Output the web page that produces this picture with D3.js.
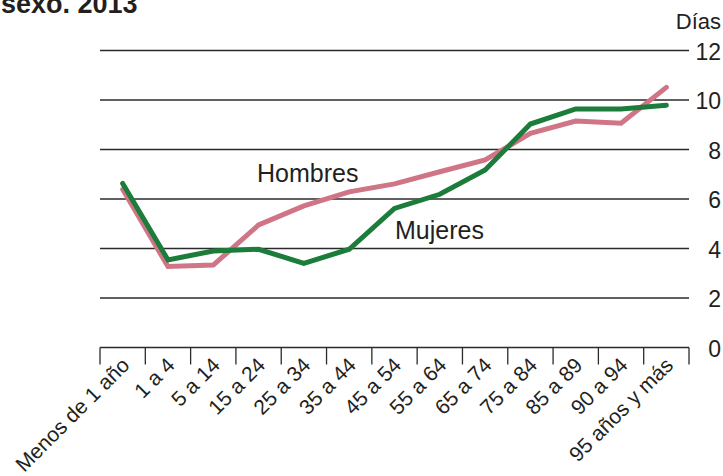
<!DOCTYPE html>
<html>
<head>
<meta charset="utf-8">
<script src="https://cdn.jsdelivr.net/npm/d3@7"></script>
<style>
  html, body { margin: 0; padding: 0; background: #fff; }
  svg { display: block; font-family: "Liberation Sans", Arial, sans-serif; }
</style>
</head>
<body>
<svg id="chart" width="723" height="476"></svg>
<script>
// Age groups along the horizontal axis
const categories = [
  "Menos de 1 año", "1 a 4", "5 a 14", "15 a 24", "25 a 34", "35 a 44",
  "45 a 54", "55 a 64", "65 a 74", "75 a 84", "85 a 89", "90 a 94", "95 años y más"
];

// Average length of stay, in days
const hombres = [6.39, 3.27, 3.33, 4.95, 5.72, 6.29, 6.61, 7.10, 7.58, 8.65, 9.15, 9.06, 10.51];
const mujeres = [6.63, 3.54, 3.90, 3.97, 3.40, 3.97, 5.62, 6.19, 7.17, 9.03, 9.64, 9.64, 9.79];

const yTicks = [0, 2, 4, 6, 8, 10, 12];

(function draw() {
  const svg = d3.select("#chart");
  const plotLeft = 100, plotRight = 689, plotTop = 50.5, plotBottom = 347.5;

  const x = d3.scaleBand().domain(categories).range([plotLeft, plotRight]).padding(0);
  const y = d3.scaleLinear().domain([0, 12]).range([plotBottom, plotTop]);
  const cx = d => x(d) + x.bandwidth() / 2;

  // Title (continuation line)
  svg.append("text")
    .attr("x", 1).attr("y", 13)
    .attr("font-size", 27).attr("font-weight", "bold").attr("fill", "#231f20")
    .text("sexo. 2013");

  // Horizontal gridlines
  svg.append("g")
    .selectAll("line")
    .data(yTicks.filter(t => t > 0))
    .join("line")
    .attr("x1", plotLeft).attr("x2", plotRight)
    .attr("y1", d => y(d)).attr("y2", d => y(d))
    .attr("stroke", "#2b2b2b").attr("stroke-width", 1.3);

  // Right-hand value labels
  svg.append("g")
    .selectAll("text")
    .data(yTicks)
    .join("text")
    .attr("x", 721).attr("y", d => y(d) + 9)
    .attr("text-anchor", "end")
    .attr("font-size", 23).attr("fill", "#231f20")
    .text(d => d);

  svg.append("text")
    .attr("x", 721).attr("y", 29)
    .attr("text-anchor", "end")
    .attr("font-size", 22).attr("fill", "#231f20")
    .text("Días");

  // Category axis: baseline with downward ticks at band boundaries
  svg.append("line")
    .attr("x1", plotLeft).attr("x2", plotRight)
    .attr("y1", plotBottom).attr("y2", plotBottom)
    .attr("stroke", "#2b2b2b").attr("stroke-width", 1.3);

  const bounds = categories.map(c => x(c)).concat([plotRight]);
  svg.append("g")
    .selectAll("line")
    .data(bounds)
    .join("line")
    .attr("x1", d => d).attr("x2", d => d)
    .attr("y1", plotBottom).attr("y2", plotBottom + 17)
    .attr("stroke", "#2b2b2b").attr("stroke-width", 1.3);

  svg.append("g")
    .selectAll("text")
    .data(categories)
    .join("text")
    .attr("transform", d => `translate(${cx(d) + 8},${plotBottom + 19}) rotate(-45)`)
    .attr("text-anchor", "end")
    .attr("font-size", 21).attr("fill", "#231f20")
    .text(d => d);

  // Series lines
  const line = d3.line()
    .x((d, i) => cx(categories[i]))
    .y(d => y(d));

  svg.append("path")
    .datum(hombres)
    .attr("d", line)
    .attr("fill", "none")
    .attr("stroke", "#d07585")
    .attr("stroke-width", 5)
    .attr("stroke-linecap", "round");

  svg.append("path")
    .datum(mujeres)
    .attr("d", line)
    .attr("fill", "none")
    .attr("stroke", "#1c7c3a")
    .attr("stroke-width", 5)
    .attr("stroke-linecap", "round");

  // Series labels
  svg.append("text")
    .attr("x", 257).attr("y", 182)
    .attr("font-size", 25).attr("fill", "#231f20")
    .text("Hombres");

  svg.append("text")
    .attr("x", 395).attr("y", 239)
    .attr("font-size", 25).attr("fill", "#231f20")
    .text("Mujeres");
})();
</script>
</body>
</html>
